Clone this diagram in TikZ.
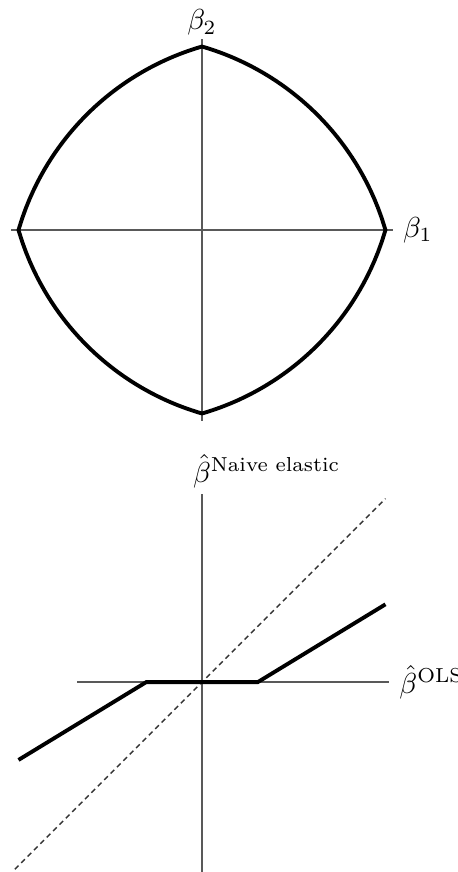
\documentclass[tikz,border=0pt]{standalone}
\usepackage{amsmath}
\usepackage{amssymb}
\usepackage{tikz}

\begin{document}
\begin{tikzpicture}[x=1cm, y=1cm,
        axis/.style={black!65, line width=0.5pt},
        lbl/.style={text=black, scale=1.12},
        bound/.style={line width=1.5pt, line join=miter},
        ident/.style={black!80, line width=0.6pt, dash pattern=on 2pt off 1.5pt},
        declare function={enf(\t)=(-0.45+sqrt(0.2025+2.2*(1-0.45*\t-0.55*\t*\t)))/1.1;}]
                \useasboundingbox (-2.752,-8.747) rectangle (3.488,3.134);

                % constraint region
                \draw[axis] (-2.6,0) -- (2.6,0) node[lbl, right] (b1) {$\beta_1$};
                \draw[axis] (0,-2.6) -- (0,2.6) node[lbl, above, inner sep=1pt] (b2) {$\beta_2$};

                \draw[bound] plot[domain=-1:1, samples=101] ({2.5*\x}, {2.5*enf(abs(\x))})
                    -- plot[domain=1:-1, samples=101] ({2.5*\x}, {-2.5*enf(abs(\x))}) -- cycle;

                % naive elastic net vs OLS
                \begin{scope}[yshift=-6.16cm]
                    \draw[axis] (-1.7,0) -- (2.55,0) node[lbl, right] (ols) {$\hat{\beta}^{\text{OLS}}$};
                    \draw[axis] (0,-2.65) -- (0,2.56) node[lbl, above, inner sep=2pt] (nen) {$\hat{\beta}\rlap{$^{\text{Naive elastic}}$}$};

                    \draw[ident] (-2.55,-2.55) -- (2.5,2.5);
                    \draw[bound] (-2.5,-1.06) -- (-0.76,0) -- (0.76,0) -- (2.5,1.06);
                \end{scope}
            \end{tikzpicture}
\end{document}
